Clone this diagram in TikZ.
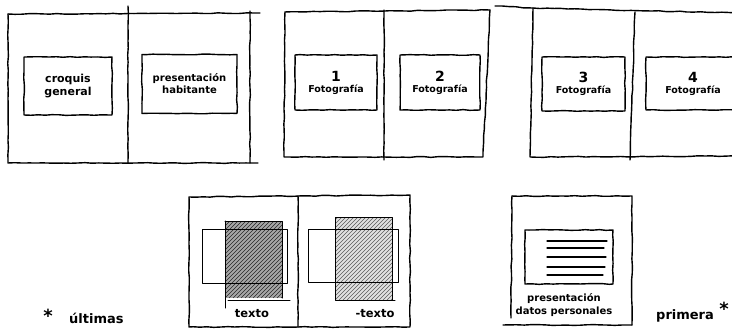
\documentclass[tikz,border=0pt]{standalone}
\usepackage{fontspec}
\setmainfont{DejaVu Sans}
\usetikzlibrary{decorations.pathmorphing}
\tikzset{
  sketch/.style={line width=1.4pt, line cap=round, line join=round,
    decorate, decoration={random steps, segment length=7pt, amplitude=0.4pt}},
  fine/.style={line width=1pt, line cap=round, line join=round},
  txtbox/.style={draw, sketch, inner sep=0pt, align=center,
    font=\fontsize{9.5}{11}\selectfont\bfseries},
  hand/.style={inner sep=0pt, align=center, font=\fontsize{11.5}{12}\selectfont\bfseries},
  num/.style={font=\fontsize{14}{15}\selectfont\bfseries},
  hatch/.style={line width=0.7pt}
}
\begin{document}
\begin{tikzpicture}[x=1pt,y=-1pt]
\useasboundingbox (0,0) rectangle (732,329);

% ---------- top row, group 1 ----------
\draw[sketch] (8,14) -- (260,13);
\draw[sketch] (8,14) -- (8,163) -- (250,163);
\draw[sketch] (128,6) -- (128,163);
\draw[sketch] (250,11) -- (250,163) -- (258,163);
\node[txtbox, minimum width=88pt, minimum height=58pt,
  font=\fontsize{11}{11.5}\selectfont\bfseries] (b1) at (68,86)
  {\strut croquis\\general};
\node[txtbox, minimum width=95pt, minimum height=59pt,
  font=\fontsize{10}{12}\selectfont\bfseries] (b2) at (189.5,84)
  {presentación\\habitante};

% ---------- top row, group 2 ----------
\draw[sketch] (285,12) -- (490,10);
\draw[sketch] (285,12) -- (284,157) -- (483,157) -- (490,10);
\draw[sketch] (384,10) -- (384,160);
\node[txtbox, minimum width=82pt, minimum height=55pt] (b3) at (336,82.5)
  {{\fontsize{14}{15}\selectfont 1}\\Fotografía};
\node[txtbox, minimum width=80pt, minimum height=55pt] (b4) at (440,82.5)
  {{\fontsize{14}{15}\selectfont 2}\\Fotografía};

% ---------- top row, group 3 ----------
\draw[sketch] (495,6) -- (533,8) -- (740,13);
\draw[sketch] (533,8) -- (530,157) -- (740,156);
\draw[sketch] (635,12) -- (630,160);
\node[txtbox, minimum width=83pt, minimum height=54pt] (b5) at (583.5,84)
  {{\fontsize{14}{15}\selectfont 3}\\Fotografía};
\node[txtbox, minimum width=94pt, minimum height=53pt] (b6) at (693,83.5)
  {{\fontsize{14}{15}\selectfont 4}\\Fotografía};

% ---------- bottom row, spread with images ----------
\draw[sketch] (189,197) -- (410,195) -- (410,327) -- (189,327) -- cycle;
\draw[sketch] (298,196) -- (298,327);

% left page
\begin{scope}
  \clip (225,221) rectangle (282,298);
  \fill[black!35] (225,221) rectangle (282,298);
  \foreach \i in {-120,-116,...,80}
    \draw[hatch, black!85] (225+\i,298) -- ++(90,-90);
\end{scope}
\draw[fine] (225,221) -- (282,221) -- (282,298);
\draw[fine] (225,221) -- (225,308);
\draw[fine] (202,229) rectangle (287,283);
\draw[fine] (228,300) -- (290,300);
\node[hand] (t1) at (252,314) {texto};

% right page
\begin{scope}
  \clip (335,217) rectangle (392,300);
  \fill[black!12] (335,217) rectangle (392,300);
  \foreach \i in {-120,-116,...,80}
    \draw[hatch, black!65] (335+\i,300) -- ++(90,-90);
\end{scope}
\draw[fine] (335,217) rectangle (392,300);
\draw[fine] (392,300) -- (395,300);
\draw[fine] (308,229) rectangle (398,282);
\node[hand] (t2) at (375,314) {-texto};

% ---------- bottom row, first page ----------
\draw[sketch] (512,196) -- (632,196) -- (632,325);
\draw[sketch] (512,196) -- (511,318);
\draw[sketch] (503,325) -- (632,325);
\node[draw, sketch, minimum width=88pt, minimum height=54pt] (b7) at (569,257) {};
\foreach \yy/\xa/\xb in {241/547/607, 248/547/604, 257/547/606, 267/547/605, 275/547/603}
  \draw[line width=1.2pt, line cap=round] (\xa,\yy) -- (\xb,\yy);
\node[hand, font=\fontsize{10}{13.5}\selectfont\bfseries] (t3) at (564,305)
  {presentación\\datos personales};

% ---------- notes ----------
\node[hand, font=\fontsize{13}{14}\selectfont\bfseries, anchor=west] (n1) at (656,316) {primera};
\node[hand, font=\fontsize{18}{18}\selectfont\bfseries] (s1) at (724,309) {*};
\node[hand, font=\fontsize{18}{18}\selectfont\bfseries] (s2) at (48,316) {*};
\node[hand, font=\fontsize{13}{14}\selectfont\bfseries, anchor=west] (n2) at (69,318) {últimas};
\end{tikzpicture}
\end{document}
